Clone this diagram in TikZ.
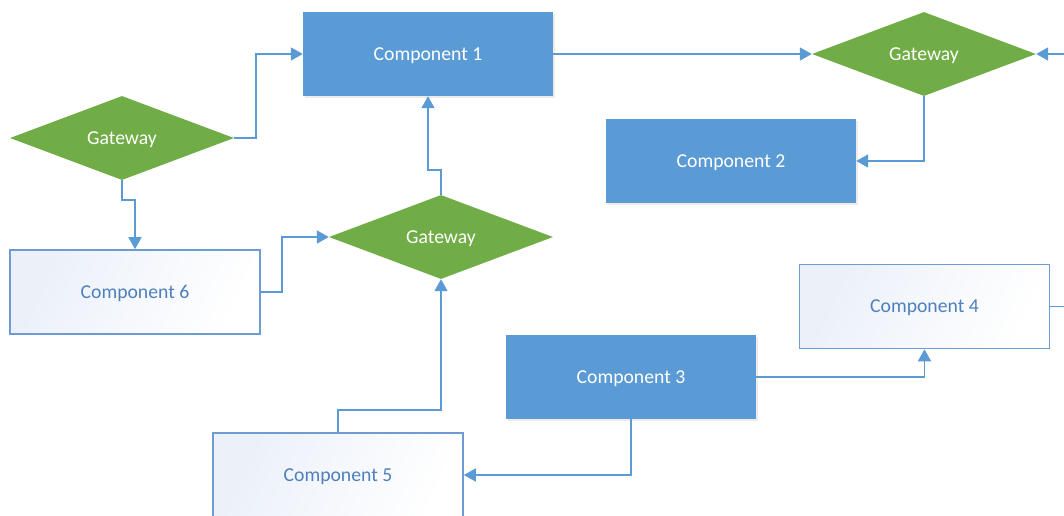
\documentclass[tikz,border=0pt]{standalone}
\usepackage{fontspec}
\setmainfont{Carlito}
\usetikzlibrary{shapes.geometric,arrows.meta,shadows}
\definecolor{compblue}{HTML}{5B9BD5}
\definecolor{gatewaygreen}{HTML}{70AD47}
\definecolor{outlineblue}{HTML}{6E9CD2}
\definecolor{textblue}{HTML}{4E80BC}
\definecolor{fadeblue}{HTML}{EBF0F9}
\tikzset{
    component/.style={shape=rectangle,minimum width=250pt,minimum height=84pt,inner sep=0pt,
        fill=compblue,text=white,font=\fontsize{19.7}{22}\selectfont,text depth=0pt,
        drop shadow={opacity=0.15,shadow xshift=1.5pt,shadow yshift=-1.5pt}},
    plaincomponent/.style={shape=rectangle,minimum width=250pt,minimum height=84pt,inner sep=0pt,
        draw=outlineblue,line width=1.6pt,left color=fadeblue,right color=white,shading angle=65,
        text=textblue,font=\fontsize{19.7}{22}\selectfont,text depth=0pt},
    gateway/.style={shape=diamond,aspect=2.67,minimum width=224pt,minimum height=84pt,inner sep=0pt,
        fill=gatewaygreen,text=white,font=\fontsize{19.7}{22}\selectfont,text depth=0pt},
    link/.style={draw=compblue,line width=1.7pt,-{Triangle[length=12pt,width=13pt]}},
    plainlink/.style={draw=compblue,line width=1.7pt}
}
\begin{document}
\begin{tikzpicture}[x=1pt,y=-1pt]
    \useasboundingbox (0,0) rectangle (1064,515);
    \clip (0,0) rectangle (1064,515);
    \node[component] (C1) at (428,54) {Component 1};
    \node[component] (C2) at (731,161) {Component 2};
    \node[component] (C3) at (631,377) {Component 3};
    \node[plaincomponent] (C4) at (924.5,306.5) {Component 4};
    \node[plaincomponent] (C5) at (338,475) {Component 5};
    \node[plaincomponent] (C6) at (135,292) {Component 6};
    \node[gateway] (GL) at (122,138) {Gateway};
    \node[gateway] (GM) at (441,237) {Gateway};
    \node[gateway] (GR) at (924,54) {Gateway};
    \coordinate (inR) at (1064,54);
    \coordinate (outR) at (1064,306.5);
    \draw[link] (GL.east) -- ++(22,0) |- (C1.west);
    \draw[link] (GL.south) -- ++(0,20) -| (C6.north);
    \draw[link] (C6.east) -- ++(21,0) |- (GM.west);
    \draw[link] (GM.north) -- ++(0,-25) -| (C1.south);
    \draw[link] (C5.north) -- ++(0,-22) -| (GM.south);
    \draw[link] (C3.south) |- (C5.east);
    \draw[link] (C3.east) -| (C4.south);
    \draw[link] (C1.east) -- (GR.west);
    \draw[link] (GR.south) |- (C2.east);
    \draw[link] (inR) -- (GR.east);
    \draw[plainlink] (C4.east) -- (outR);
\end{tikzpicture}
\end{document}
